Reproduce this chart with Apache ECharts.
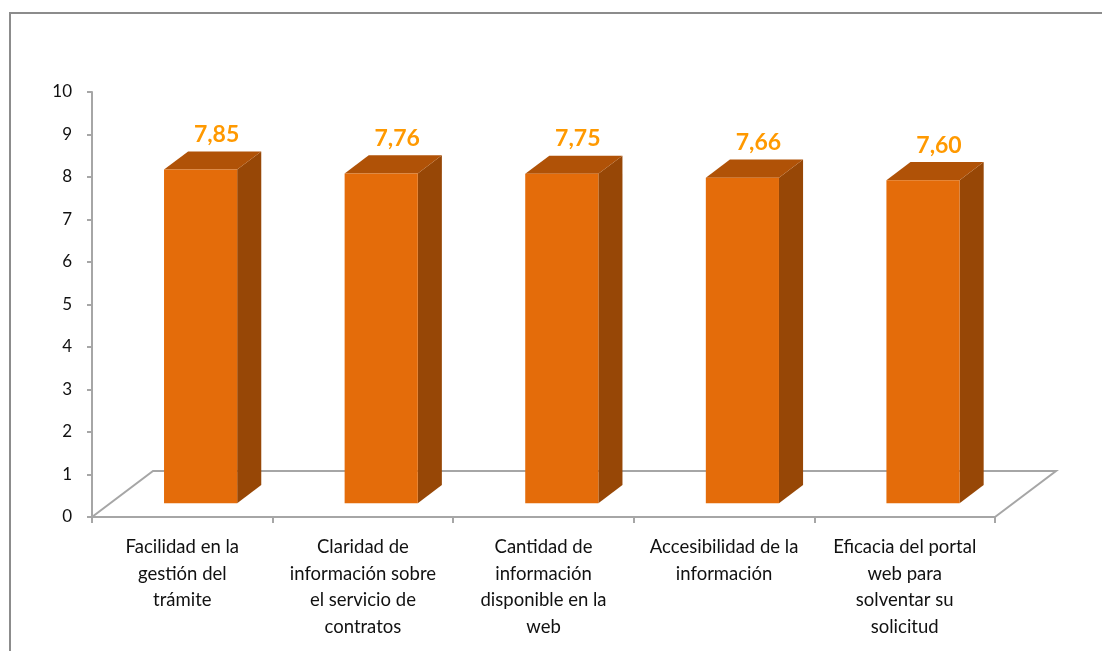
<!DOCTYPE html>
<html>
<head>
<meta charset="utf-8">
<script src="https://cdn.jsdelivr.net/npm/echarts@6/dist/echarts.min.js"></script>
<style>
html,body{margin:0;padding:0;background:#fff;}
#c{width:1102px;height:651px;}
</style>
</head>
<body>
<div id="c"></div>
<script>
var categories = [
  'Facilidad en la\ngestión del\ntrámite',
  'Claridad de\ninformación sobre\nel servicio de\ncontratos',
  'Cantidad de\ninformación\ndisponible en la\nweb',
  'Accesibilidad de la\ninformación',
  'Eficacia del portal\nweb para\nsolventar su\nsolicitud'
];
var values = [7.85, 7.76, 7.75, 7.66, 7.60];
var yTicks = [0, 1, 2, 3, 4, 5, 6, 7, 8, 9, 10];

var FONT = 'Lato, "Open Sans", sans-serif';
var DX = 61, DY = -46;           // floor depth in pixels
var F0 = 0.30, F1 = 0.695;       // bar front/back depth fractions
var BAR_W = 0.405;               // bar width as band fraction

var chart = echarts.init(document.getElementById('c'));

function fmt(v){ return v.toFixed(2).replace('.', ','); }

chart.setOption({
  animation: false,
  backgroundColor: '#ffffff',
  graphic: [{
    type: 'rect',
    shape: { x: 10, y: 13, width: 1200, height: 800 },
    style: { fill: 'none', stroke: '#8c8c8c', lineWidth: 2 },
    silent: true, z: 0
  }],
  grid: { left: 92, right: 107, top: 92, bottom: 134 },
  xAxis: {
    type: 'category',
    data: categories,
    boundaryGap: true,
    axisLine: { show: true, lineStyle: { color: '#a6a6a6', width: 2 } },
    axisTick: { show: true, alignWithLabel: false, length: 6, lineStyle: { color: '#a6a6a6', width: 2 } },
    axisLabel: {
      interval: 0, margin: 17, color: '#111111',
      fontFamily: FONT, fontSize: 18.5, lineHeight: 26.5
    },
    splitLine: { show: false }
  },
  yAxis: {
    type: 'value',
    min: yTicks[0], max: yTicks[yTicks.length - 1], interval: 1,
    axisLine: { show: true, lineStyle: { color: '#a6a6a6', width: 2 } },
    axisTick: { show: true, length: 5, lineStyle: { color: '#a6a6a6', width: 2 } },
    axisLabel: { margin: 20, color: '#111111', fontFamily: FONT, fontSize: 17 },
    splitLine: { show: false }
  },
  series: [
    {
      type: 'custom',
      z: 1,
      silent: true,
      data: [[0]],
      renderItem: function (params, api) {
        var bw = api.size([1, 0])[0];
        var l = api.coord([0, 0]);
        var r = api.coord([categories.length - 1, 0]);
        var x0 = l[0] - bw / 2, x1 = r[0] + bw / 2, y = l[1];
        return {
          type: 'polyline',
          shape: { points: [[x0, y], [x0 + DX, y + DY], [x1 + DX, y + DY], [x1, y]] },
          style: { stroke: '#a6a6a6', lineWidth: 2, fill: null }
        };
      }
    },
    {
      type: 'custom',
      z: 3,
      data: values.map(function (v, i) { return [i, v]; }),
      renderItem: function (params, api) {
        var i = api.value(0), v = api.value(1);
        var t = api.coord([i, v]);
        var b = api.coord([i, 0]);
        var bw = api.size([1, 0])[0];
        var w = bw * BAR_W;
        var x0 = b[0] + DX * F0 - w / 2;
        var yb = b[1] + DY * F0;
        var yt = t[1] + DY * F0;
        var ddx = DX * (F1 - F0), ddy = DY * (F1 - F0);
        return {
          type: 'group',
          children: [
            { type: 'polygon', shape: { points: [[x0 + w, yt], [x0 + w + ddx, yt + ddy], [x0 + w + ddx, yb + ddy], [x0 + w, yb]] },
              style: { fill: '#974706' } },
            { type: 'polygon', shape: { points: [[x0, yt], [x0 + ddx, yt + ddy], [x0 + w + ddx, yt + ddy], [x0 + w, yt]] },
              style: { fill: '#b05207' } },
            { type: 'rect', shape: { x: x0, y: yt, width: w, height: yb - yt },
              style: { fill: '#e46c0a' } },
            { type: 'text', x: x0 + w / 2 + 16, y: yt - 35,
              style: { text: fmt(v), fill: '#ff9900', font: 'bold 23px ' + FONT, align: 'center', verticalAlign: 'middle' } }
          ]
        };
      }
    }
  ]
});
</script>
</body>
</html>
